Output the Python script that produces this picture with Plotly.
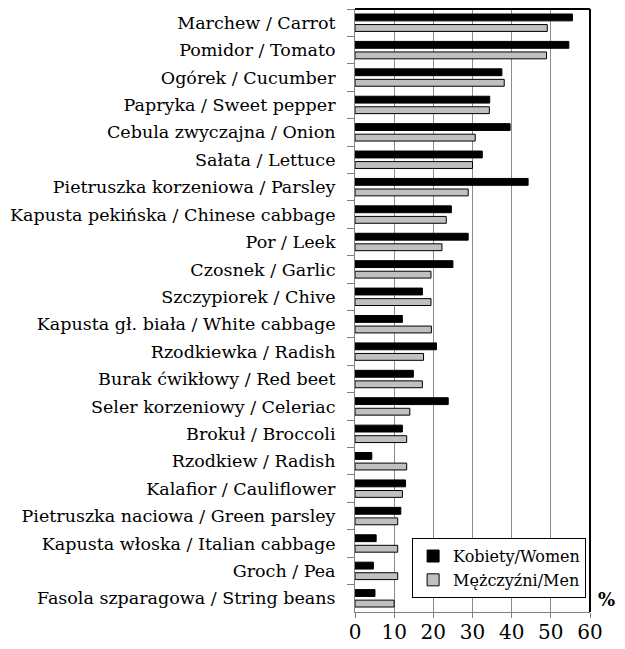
import plotly.graph_objects as go

categories = [
    "Marchew / Carrot", "Pomidor / Tomato", "Ogórek / Cucumber",
    "Papryka / Sweet pepper", "Cebula zwyczajna / Onion", "Sałata / Lettuce",
    "Pietruszka korzeniowa / Parsley", "Kapusta pekińska / Chinese cabbage",
    "Por / Leek", "Czosnek / Garlic", "Szczypiorek / Chive",
    "Kapusta gł. biała / White cabbage", "Rzodkiewka / Radish",
    "Burak ćwikłowy / Red beet", "Seler korzeniowy / Celeriac",
    "Brokuł / Broccoli", "Rzodkiew / Radish", "Kalafior / Cauliflower",
    "Pietruszka naciowa / Green parsley", "Kapusta włoska / Italian cabbage",
    "Groch / Pea", "Fasola szparagowa / String beans",
]
women = [55.5, 54.6, 37.5, 34.4, 39.6, 32.5, 44.2, 24.6, 28.9, 25.0, 17.2,
         12.1, 20.8, 14.9, 23.8, 12.1, 4.3, 12.9, 11.7, 5.4, 4.7, 5.1]
men = [49.1, 48.9, 38.1, 34.3, 30.7, 30.0, 28.9, 23.3, 22.2, 19.4, 19.4,
       19.5, 17.5, 17.2, 14.0, 13.2, 13.2, 12.1, 10.9, 10.9, 10.9, 10.0]
x_ticks = [0, 10, 20, 30, 40, 50, 60]

FONT = "DejaVu Serif"

fig = go.Figure()
fig.add_trace(go.Bar(
    y=categories, x=women, orientation="h", name="Kobiety/Women",
    marker=dict(color="#000000", line=dict(color="#000000", width=1)),
))
fig.add_trace(go.Bar(
    y=categories, x=men, orientation="h", name="Mężczyźni/Men",
    marker=dict(color="#c0c0c0", line=dict(color="#000000", width=1)),
))

fig.update_layout(
    width=617, height=641,
    margin=dict(l=347, r=35, t=1, b=37, autoexpand=False),
    paper_bgcolor="white", plot_bgcolor="white",
    font=dict(family=FONT, size=17, color="black"),
    barmode="group", bargap=0.23, bargroupgap=0.35,
    showlegend=True,
    legend=dict(
        x=0.243, y=0.023, xanchor="left", yanchor="bottom",
        bgcolor="white", bordercolor="black", borderwidth=1,
        font=dict(family=FONT, size=16, color="black"), traceorder="normal",
        itemwidth=30, tracegroupgap=0,
    ),
    xaxis=dict(
        range=[0, 60], tickvals=x_ticks, ticks="outside", ticklen=5,
        tickcolor="#808080", showgrid=True, gridcolor="#8c8c8c", gridwidth=1,
        showline=True, linecolor="#808080", linewidth=1, mirror=False,
        zeroline=False, automargin=False, ticklabelstandoff=-3,
        tickfont=dict(family=FONT, size=20, color="black"),
    ),
    yaxis=dict(
        autorange="reversed", ticks="outside", ticklen=7, tickcolor="#808080",
        tickson="boundaries", showline=True, linecolor="#808080", linewidth=1,
        showgrid=False, automargin=False, ticklabelstandoff=15,
        tickfont=dict(family=FONT, size=17.5, color="black"),
    ),
    shapes=[
        dict(type="line", xref="paper", yref="paper", x0=0, x1=1, y0=1, y1=1,
             line=dict(color="black", width=2)),
        dict(type="line", xref="paper", yref="paper", x0=1, x1=1, y0=0, y1=1,
             line=dict(color="black", width=2)),
    ],
    annotations=[
        dict(text="<b>%</b>", xref="paper", yref="paper", x=1.07, y=0.0,
             xanchor="center", yanchor="bottom", showarrow=False,
             font=dict(size=18, family=FONT, color="black")),
    ],
)

fig.write_html("out.html")
